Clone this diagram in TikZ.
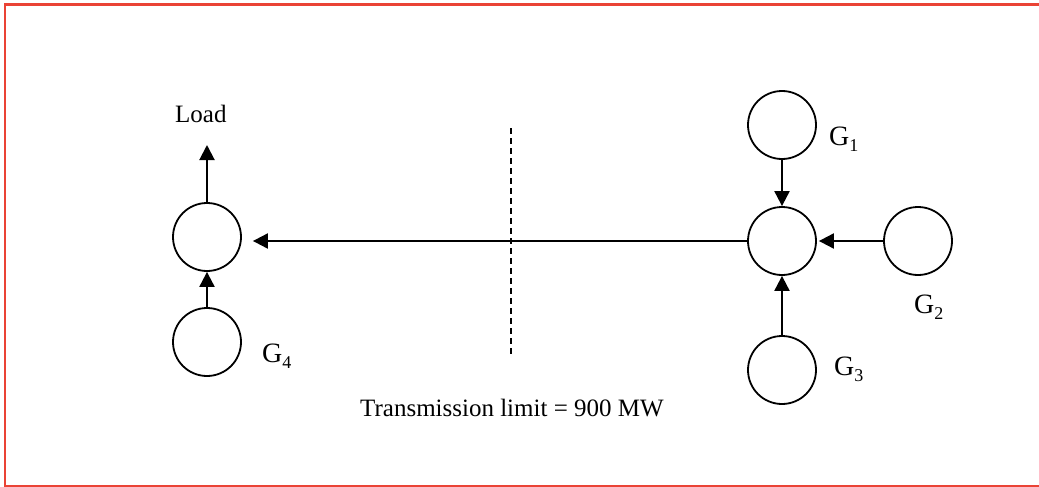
\documentclass[tikz,border=0pt]{standalone}
\usepackage{fontspec}
\setmainfont{Liberation Serif}
\usepackage{xcolor}
\usetikzlibrary{arrows.meta}
\definecolor{framered}{RGB}{234,67,53}
\newcommand{\gen}[1]{{\fontsize{28}{30}\selectfont G}\raisebox{-6pt}{\fontsize{18}{18}\selectfont #1}}

\begin{document}
\begin{tikzpicture}[x=1pt, y=-1pt, every node/.style={inner sep=0pt},
  bus/.style={circle,draw,line width=1.8pt,minimum size=68pt},
  flow/.style={-{Triangle[length=15pt,width=15pt]},line width=2pt},
  lbl/.style={font=\fontsize{25}{30}\selectfont,anchor=base west}]
  \useasboundingbox (0,0) rectangle (1039,487);
  % frame
  \draw[framered,line width=3pt] (4,5) -- (1039,5);
  \draw[framered,line width=1.5pt] (5,5) -- (5,486) -- (1039,486);
  % buses and generators
  \node[bus] (lbus) at (207,237) {};
  \node[bus] (g4) at (207,342) {};
  \node[bus] (rbus) at (782,241) {};
  \node[bus] (g1) at (782,125) {};
  \node[bus] (g2) at (918,241) {};
  \node[bus] (g3) at (782,370) {};
  \coordinate (loadtip) at (207,145);
  % flows
  \draw[flow] (lbus) -- (loadtip);
  \draw[flow] (g4) -- (lbus);
  \draw[flow] (g1) -- (rbus);
  \draw[flow,shorten >=2pt] (g2) -- (rbus);
  \draw[flow] (g3) -- (rbus);
  \draw[flow,shorten >=11pt] (rbus.west) -- (rbus.west -| lbus.east);
  % cut
  \draw[line width=1.3pt,dash pattern=on 6pt off 4pt] (511,128) -- (511,357);
  % labels
  \node[lbl] (load) at (175,122) {Load};
  \node[lbl] (g1lbl) at (829,145) {\gen{1}};
  \node[lbl] (g2lbl) at (914,313) {\gen{2}};
  \node[lbl] (g3lbl) at (834,375) {\gen{3}};
  \node[lbl] (g4lbl) at (262,362) {\gen{4}};
  \node[lbl] (limit) at (360,416) {Transmission limit = 900 MW};
\end{tikzpicture}
\end{document}
